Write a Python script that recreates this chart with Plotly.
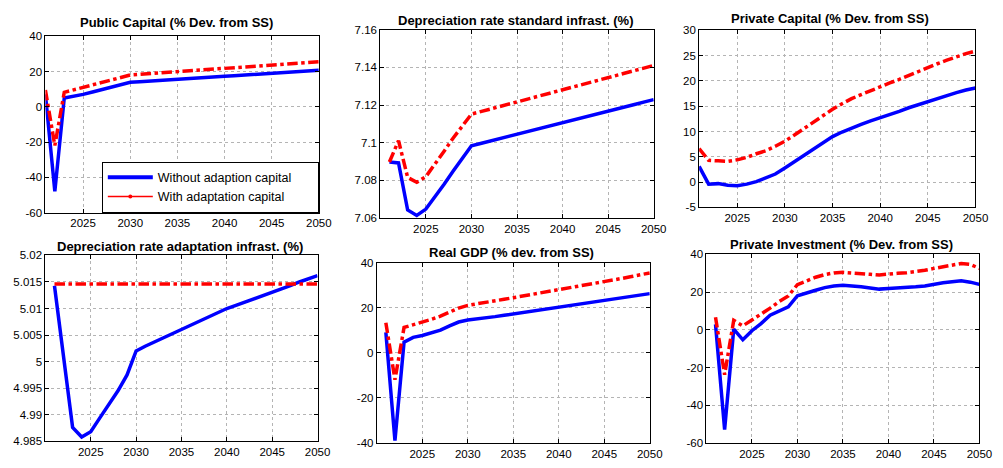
import plotly.graph_objects as go

W, H = 1003, 468

years = [2021, 2022, 2023, 2024, 2025, 2026, 2027, 2028, 2029, 2030,
         2031, 2032, 2033, 2034, 2035, 2036, 2037, 2038, 2039, 2040,
         2041, 2042, 2043, 2044, 2045, 2046, 2047, 2048, 2049, 2050]

# Public Capital (% Dev. from SS)
pubcap_without = [7, -48, 5, 5.8, 7, 8.4, 9.8, 11.2, 12.6, 13.9,
                  14.2, 14.6, 14.9, 15.3, 15.6, 15.9, 16.3, 16.6, 17.0, 17.3,
                  17.6, 18.0, 18.3, 18.7, 19.0, 19.3, 19.7, 20.0, 20.4, 20.7]
pubcap_with = [9.5, -22, 8.2, 9.5, 11, 12.4, 13.8, 15.2, 16.6, 18,
               18.4, 18.8, 19.1, 19.5, 19.9, 20.3, 20.6, 21, 21.4, 21.8,
               22.1, 22.5, 22.9, 23.3, 23.6, 24, 24.4, 24.8, 25.1, 25.5]

# Depreciation rate standard infrast. (%)
depstd_without = [7.0898, 7.0893, 7.0643, 7.0614, 7.0648, 7.0712, 7.0780, 7.0850, 7.0920, 7.0984,
                  7.0996, 7.1008, 7.1021, 7.1033, 7.1045, 7.1057, 7.1070, 7.1082, 7.1094, 7.1106,
                  7.1119, 7.1131, 7.1143, 7.1155, 7.1168, 7.1180, 7.1192, 7.1204, 7.1217, 7.1229]
depstd_with = [7.0898, 7.1011, 7.0816, 7.0790, 7.0820, 7.0885, 7.0955, 7.1025, 7.1090, 7.1152,
               7.1165, 7.1178, 7.1191, 7.1204, 7.1217, 7.1229, 7.1242, 7.1255, 7.1268, 7.1281,
               7.1294, 7.1307, 7.1320, 7.1333, 7.1346, 7.1358, 7.1371, 7.1384, 7.1397, 7.1410]

# Private Capital (% Dev. from SS)
privcap_without = [3.1, -0.4, -0.3, -0.6, -0.7, -0.4, 0.1, 0.8, 1.6, 2.8,
                   4.0, 5.3, 6.6, 7.8, 9.0, 9.9, 10.7, 11.4, 12.1, 12.7,
                   13.4, 14.0, 14.7, 15.3, 16.0, 16.6, 17.2, 17.7, 18.2, 18.6]
privcap_with = [6.6, 4.3, 4.2, 4.1, 4.4, 4.9, 5.6, 6.2, 7.1, 8.1,
                9.3, 10.6, 11.9, 13.2, 14.4, 15.5, 16.5, 17.3, 18.1, 18.8,
                19.6, 20.3, 21.1, 21.9, 22.6, 23.4, 24.1, 24.8, 25.4, 25.9]

# Depreciation rate adaptation infrast. (%)
depad_without = [5.0143, 5.0010, 4.9876, 4.9858, 4.9868, 4.9894, 4.9920, 4.9945, 4.9975, 5.0020,
                 5.0029, 5.0037, 5.0045, 5.0053, 5.0061, 5.0069, 5.0077, 5.0085, 5.0093, 5.0100,
                 5.0106, 5.0112, 5.0118, 5.0124, 5.0130, 5.0136, 5.0143, 5.0150, 5.0156, 5.0162]
depad_with = [5.0146, 5.0146, 5.0146, 5.0146, 5.0146, 5.0146, 5.0146, 5.0146, 5.0146, 5.0146,
              5.0146, 5.0146, 5.0146, 5.0146, 5.0146, 5.0146, 5.0146, 5.0146, 5.0146, 5.0146,
              5.0146, 5.0146, 5.0146, 5.0146, 5.0146, 5.0146, 5.0146, 5.0146, 5.0146, 5.0146]

# Real GDP (% dev. from SS)
gdp_without = [9, -39, 4.7, 6.8, 7.6, 8.6, 10, 11.9, 13.6, 14.5,
               14.9, 15.5, 16.0, 16.6, 17.2, 17.8, 18.4, 19.1, 19.7, 20.3,
               20.8, 21.4, 22.0, 22.5, 23.1, 23.7, 24.4, 25.0, 25.6, 26.2]
gdp_with = [13.3, -12, 11.2, 12.3, 13.3, 14.8, 16.2, 18.1, 19.8, 21,
            21.6, 22.3, 23.0, 23.7, 24.4, 25.1, 25.8, 26.4, 27.1, 27.8,
            28.5, 29.2, 29.9, 30.7, 31.4, 32.2, 33.0, 33.8, 34.6, 35.4]

# Private Investment (% Dev. from SS)
inv_without = [2.9, -53, 0.3, -5.3, -0.5, 3.3, 7.8, 9.8, 12.2, 18.1,
               19.7, 21, 22.4, 23.3, 23.6, 23.4, 22.8, 22.2, 21.6, 21.9,
               22.1, 22.2, 22.8, 23.3, 24.3, 25.0, 25.5, 26, 25.3, 24.1]
inv_with = [6.7, -23.8, 5, 2.1, 5.2, 8.2, 11.5, 15, 18, 24,
            26.2, 27.9, 29.3, 30.2, 30.5, 30.3, 30, 29.5, 29.1, 29.7,
            30, 30.3, 30.9, 31.6, 32.6, 33.6, 34.5, 35.2, 34.7, 32.6]

titles = ["Public Capital (% Dev. from SS)",
          "Depreciation rate standard infrast. (%)",
          "Private Capital (% Dev. from SS)",
          "Depreciation rate adaptation infrast. (%)",
          "Real GDP (% dev. from SS)",
          "Private Investment (% Dev. from SS)"]

legend_names = ["Without adaption capital", "With adaptation capital"]

series_without = [pubcap_without, depstd_without, privcap_without,
                  depad_without, gdp_without, inv_without]
series_with = [pubcap_with, depstd_with, privcap_with,
               depad_with, gdp_with, inv_with]

x_ticks = [2025, 2030, 2035, 2040, 2045, 2050]

y_ticks = [
    [-60, -40, -20, 0, 20, 40],
    [7.06, 7.08, 7.10, 7.12, 7.14, 7.16],
    [-5, 0, 5, 10, 15, 20, 25, 30],
    [4.985, 4.99, 4.995, 5.0, 5.005, 5.01, 5.015, 5.02],
    [-40, -20, 0, 20, 40],
    [-60, -40, -20, 0, 20, 40],
]
y_ticktext = [
    ["-60", "-40", "-20", "0", "20", "40"],
    ["7.06", "7.08", "7.1", "7.12", "7.14", "7.16"],
    ["-5", "0", "5", "10", "15", "20", "25", "30"],
    ["4.985", "4.99", "4.995", "5", "5.005", "5.01", "5.015", "5.02"],
    ["-40", "-20", "0", "20", "40"],
    ["-60", "-40", "-20", "0", "20", "40"],
]
x_start = [2021, 2020, 2021, 2020, 2020, 2020]

# plot-area boxes in pixels: left, right, top, bottom
boxes = [
    (46, 323, 31, 212),
    (385.3, 662.3, 24.3, 217.7),
    (708.3, 988.3, 25, 206.7),
    (46, 321.7, 256, 446.7),
    (381.7, 658.3, 263.3, 448.3),
    (715.7, 992.3, 255, 448.3),
]
title_pos = [(179.3, 16.7), (523, 15), (840.5, 13.3),
             (182, 246.7), (518, 253.3), (852.7, 245)]

BLUE = "#0000ff"
RED = "#ff0000"
FONT = "Arial, Liberation Sans, Helvetica, sans-serif"

fig = go.Figure()
layout = dict(width=W, height=H, margin=dict(l=0, r=0, t=0, b=0),
              paper_bgcolor="white", plot_bgcolor="white",
              font=dict(family=FONT, size=11, color="black"),
              annotations=[])

for i in range(6):
    n = "" if i == 0 else str(i + 1)
    xa, ya = "x" + n, "y" + n
    fig.add_trace(go.Scatter(x=years, y=series_without[i], mode="lines",
                             line=dict(color=BLUE, width=3.5),
                             xaxis=xa, yaxis=ya, showlegend=False,
                             hoverinfo="skip"))
    fig.add_trace(go.Scatter(x=years, y=series_with[i], mode="lines",
                             line=dict(color=RED, width=3.5, dash="dashdot"),
                             xaxis=xa, yaxis=ya, showlegend=False,
                             hoverinfo="skip"))
    l, r, t, b = boxes[i]
    common = dict(showline=True, linecolor="black", linewidth=1, mirror="ticks",
                  ticks="inside", ticklen=4, tickcolor="black",
                  showgrid=True, gridcolor="#b4b4b4", griddash="dot", gridwidth=1,
                  zeroline=False, tickfont=dict(family=FONT, size=11.5, color="black"))
    layout["xaxis" + n] = dict(domain=[l / W, r / W], range=[x_start[i], 2050],
                               tickmode="array", tickvals=x_ticks,
                               anchor=ya, **common)
    layout["yaxis" + n] = dict(domain=[1 - b / H, 1 - t / H],
                               range=[y_ticks[i][0], y_ticks[i][-1]],
                               tickmode="array", tickvals=y_ticks[i],
                               ticktext=y_ticktext[i], anchor=xa, **common)
    tx, ty = title_pos[i]
    layout["annotations"].append(dict(
        text="<b>" + titles[i] + "</b>", x=tx / W, y=1 - ty / H,
        xref="paper", yref="paper", xanchor="center", yanchor="middle",
        showarrow=False, font=dict(family=FONT, size=13, color="black")))

# legend entries (no data, legend only)
PAD = "\u00a0" * 6
fig.add_trace(go.Scatter(x=[None], y=[None], mode="lines",
                         name=legend_names[0] + PAD,
                         line=dict(color=BLUE, width=4)))
fig.add_trace(go.Scatter(x=[None], y=[None], mode="lines+markers",
                         name=legend_names[1] + PAD,
                         line=dict(color=RED, width=1.5),
                         marker=dict(color=RED, size=4)))

layout["legend"] = dict(x=323 / W, xanchor="right", y=1 - 212 / H, yanchor="bottom",
                        bgcolor="white", bordercolor="black", borderwidth=1,
                        font=dict(family=FONT, size=12.5, color="black"),
                        itemwidth=45, tracegroupgap=0)
layout["showlegend"] = True

fig.update_layout(**layout)
fig.write_html("out.html",
               config={"displayModeBar": False, "staticPlot": True},
               post_script="document.body.style.margin='0';document.body.style.padding='0';"
                           "document.documentElement.style.overflow='hidden';")
